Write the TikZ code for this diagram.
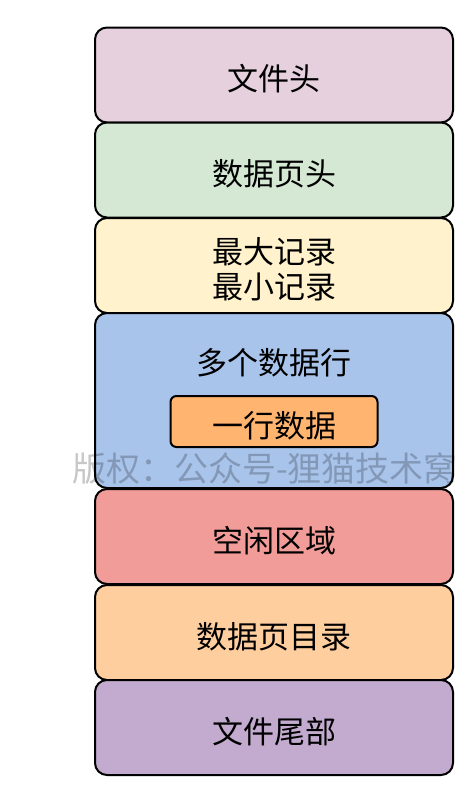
\documentclass[tikz,border=0pt]{standalone}
\usepackage{fontspec}
\setmainfont{Noto Sans CJK SC}
\definecolor{headpink}{HTML}{E6D0DE}
\definecolor{pagegreen}{HTML}{D5E8D4}
\definecolor{recyellow}{HTML}{FFF2CC}
\definecolor{rowblue}{HTML}{A9C4EB}
\definecolor{roworange}{HTML}{FFB570}
\definecolor{freered}{HTML}{F19C99}
\definecolor{dirorange}{HTML}{FFCE9F}
\definecolor{tailpurple}{HTML}{C3ABD0}
\usetikzlibrary{positioning}

\begin{document}
\begin{tikzpicture}[x=1pt, y=1pt,
  part/.style={draw=black, line width=2pt, rounded corners=12pt,
    minimum width=358pt, minimum height=95pt, inner sep=0pt,
    text height=31pt, text depth=0pt,
    align=center, font=\fontsize{31}{36}\selectfont},
  row/.style={draw=black, line width=2pt, rounded corners=6pt, fill=roworange,
    minimum width=207pt, minimum height=51pt, inner sep=0pt,
    text height=31pt, text depth=0pt,
    font=\fontsize{31}{36}\selectfont},
  partname/.style={align=center, font=\fontsize{31}{35}\selectfont},
  wmark/.style={text=black, text opacity=0.22, font=\fontsize{34}{36}\selectfont},
]
\useasboundingbox (0,0) rectangle (465,-788);

\node[part, fill=headpink] (filehead) at (274,-75) {文件头};
\node[part, fill=pagegreen] (pagehead) at (274,-170) {数据页头};
\node[part, fill=recyellow] (minmax) at (274,-265.5) {};
\node[partname] (minmaxtext) at (274,-269.5) {最大记录\\最小记录};
\node[part, fill=rowblue, minimum height=175pt] (rows) at (274,-400.5) {};
\node[partname, text height=31pt, text depth=0pt] (rowstitle) at (274,-359) {多个数据行};
\node[row] (onerow) at (274,-421.5) {一行数据};
\node[part, fill=freered] (free) at (274,-536.5) {空闲区域};
\node[part, fill=dirorange] (pagedir) at (274,-632.5) {数据页目录};
\node[part, fill=tailpurple] (filetail) at (274,-727.5) {文件尾部};

% watermark
\node[wmark, anchor=west, inner sep=0pt] (wm) at (72,-469) {版权：公众号-狸猫技术窝};
\end{tikzpicture}
\end{document}
